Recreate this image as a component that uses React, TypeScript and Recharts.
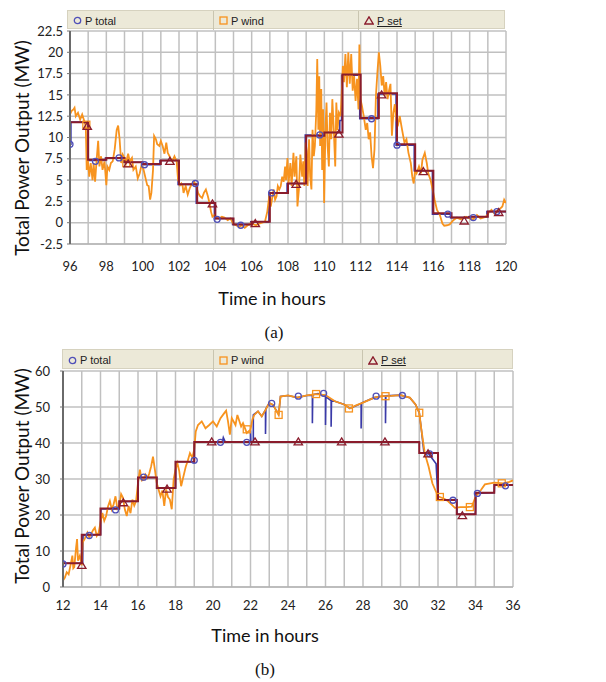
import React from 'react';
import { ComposedChart, Line, Scatter, XAxis, YAxis, CartesianGrid } from 'recharts';

// ---------- Panel (a) ----------
const xTicksA = [96, 97, 98, 99, 100, 101, 102, 103, 104, 105, 106, 107, 108, 109, 110, 111, 112, 113, 114, 115, 116, 117, 118, 119, 120];
const yTicksA = [-2.5, 0, 2.5, 5, 7.5, 10, 12.5, 15, 17.5, 20, 22.5];

const windA: [number, number][] = [
  [96.0, 12.7], [96.08, 13.1], [96.19, 13.3], [96.25, 13.5], [96.32, 12.5], [96.44, 12.9], [96.56, 12.1], [96.67, 12.7], [96.79, 11.9], [96.87, 11.3],
  [96.92, 6.2], [96.98, 7.4], [97.06, 5.4], [97.14, 7.0], [97.24, 5.0], [97.3, 7.0], [97.38, 4.8], [97.46, 7.2], [97.55, 9.6], [97.62, 6.6],
  [97.71, 7.8], [97.79, 6.2], [97.9, 7.2], [98.0, 4.4], [98.06, 6.6], [98.16, 6.2], [98.25, 7.0], [98.35, 7.2], [98.46, 8.6], [98.57, 10.9],
  [98.65, 11.4], [98.73, 9.8], [98.82, 7.0], [98.9, 8.0], [99.0, 7.6], [99.08, 7.0], [99.2, 8.1], [99.29, 7.2], [99.41, 7.6], [99.49, 6.2],
  [99.62, 6.6], [99.73, 5.2], [99.84, 5.8], [99.94, 6.8], [100.05, 6.2], [100.16, 5.2], [100.25, 4.4], [100.33, 4.3], [100.41, 2.7], [100.48, 3.5],
  [100.57, 6.2], [100.63, 10.2], [100.73, 9.8], [100.8, 9.2], [100.92, 9.0], [101.0, 9.6], [101.1, 9.0], [101.2, 8.1], [101.3, 9.4], [101.38, 8.2],
  [101.48, 7.8], [101.56, 7.4], [101.63, 7.2], [101.75, 7.8], [101.87, 7.2], [101.95, 5.0], [102.06, 4.4], [102.13, 4.6], [102.2, 4.3], [102.25, 3.5],
  [102.37, 4.3], [102.48, 3.3], [102.6, 4.1], [102.71, 4.6], [102.84, 4.8], [102.95, 4.3], [103.05, 3.5], [103.16, 3.1], [103.27, 2.9], [103.37, 3.5],
  [103.48, 3.9], [103.59, 3.1], [103.68, 2.3], [103.76, 1.3], [103.84, 0.7], [103.95, 0.9], [104.03, 0.7], [104.2, 0.5], [104.36, 0.7], [104.5, 0.6],
  [104.68, 0.3], [104.83, 0.5], [104.98, -0.1], [105.14, -0.3], [105.3, -0.5], [105.46, -0.3], [105.62, -0.6], [105.78, -0.3], [105.94, -0.1], [106.1, -0.2],
  [106.25, -0.3], [106.41, -0.1], [106.57, 0.0], [106.73, 0.1], [106.86, 1.3], [106.92, 2.3], [106.98, 3.3], [107.05, 1.9], [107.13, 2.9], [107.21, 3.9],
  [107.29, 2.7], [107.37, 3.1], [107.44, 4.3], [107.52, 3.9], [107.6, 4.3], [107.68, 5.4], [107.76, 4.8], [107.84, 6.6], [107.89, 5.0], [107.97, 7.6],
  [108.03, 4.6], [108.13, 7.0], [108.2, 4.3], [108.3, 8.2], [108.36, 5.4], [108.46, 7.8], [108.52, 1.9], [108.6, 3.9], [108.68, 8.0], [108.78, 5.4],
  [108.84, 7.2], [108.9, 4.3], [108.97, 9.4], [109.03, 8.4], [109.08, 4.3], [109.16, 9.8], [109.22, 5.4], [109.29, 3.9], [109.35, 10.9], [109.42, 7.8],
  [109.48, 9.0], [109.56, 13.3], [109.61, 19.2], [109.67, 10.9], [109.72, 17.2], [109.77, 9.0], [109.83, 15.7], [109.88, 6.2], [109.93, 13.3], [109.99, 2.3],
  [110.06, 10.9], [110.12, 14.1], [110.18, 9.0], [110.25, 6.6], [110.31, 12.9], [110.38, 9.8], [110.44, 14.5], [110.52, 10.9], [110.6, 6.6], [110.66, 14.1],
  [110.73, 10.9], [110.8, 12.9], [110.89, 12.5], [110.95, 14.9], [111.02, 18.4], [111.08, 16.5], [111.16, 19.8], [111.24, 15.9], [111.32, 20.0], [111.4, 16.3],
  [111.48, 19.8], [111.56, 15.5], [111.64, 17.2], [111.72, 14.3], [111.8, 16.9], [111.88, 13.3], [111.93, 20.9], [111.99, 14.5], [112.07, 13.7], [112.17, 12.5],
  [112.28, 10.9], [112.36, 11.7], [112.44, 9.8], [112.52, 10.6], [112.6, 7.8], [112.68, 6.4], [112.76, 8.6], [112.84, 14.9], [112.92, 17.6], [113.0, 20.0],
  [113.08, 18.4], [113.16, 16.1], [113.24, 17.2], [113.32, 14.9], [113.4, 16.5], [113.48, 14.5], [113.56, 15.5], [113.64, 16.3], [113.72, 10.2], [113.8, 12.9],
  [113.88, 13.9], [113.96, 12.1], [114.04, 11.3], [114.15, 12.5], [114.28, 10.9], [114.41, 9.4], [114.52, 9.8], [114.63, 8.2], [114.76, 7.0], [114.84, 5.4],
  [114.92, 4.6], [115.0, 6.2], [115.08, 5.8], [115.21, 6.6], [115.32, 5.8], [115.4, 7.4], [115.53, 8.2], [115.64, 7.0], [115.72, 5.8], [115.85, 5.0],
  [115.96, 3.9], [116.07, 2.7], [116.2, 1.5], [116.36, 0.9], [116.5, -0.1], [116.6, -0.35], [116.75, -0.3], [116.9, -0.2], [117.1, 0.3], [117.3, 0.6],
  [117.5, 0.4], [117.8, 0.7], [118.0, 0.5], [118.2, 0.4], [118.4, 0.9], [118.6, 0.5], [118.9, 0.7], [119.05, 1.2], [119.2, 1.5], [119.35, 1.1],
  [119.5, 1.3], [119.65, 1.6], [119.8, 1.9], [119.9, 2.7], [120.0, 2.3],
];

const setA: [number, number][] = [
  [96, 11.8], [97, 7.4], [98, 7.6], [99, 7.1], [100, 6.9], [101, 7.3], [102, 4.5], [103, 2.3], [104, 0.5], [105, -0.2], [106, 0.1], [107, 3.5],
  [108, 4.6], [109, 10.2], [110, 10.6], [111, 17.4], [112, 12.3], [113, 15.2], [114, 9.2], [115, 6.1], [116, 1.1], [117, 0.6], [118, 0.7], [119, 1.3], [120, 1.3],
];

const totalA: [number, number][] = [
  [96, 9.2], [96.05, 11.8], [97.0, 7.3], [97.95, 7.6], [98.95, 7.1], [99.95, 6.8], [100.95, 7.3], [101.95, 4.5], [102.95, 2.3], [103.95, 0.5],
  [104.95, -0.2], [105.95, 0.1], [106.95, 3.5], [107.95, 4.6], [108.95, 10.3], [109.95, 10.6], [110.85, 12.0], [110.95, 17.3], [111.95, 12.2],
  [112.95, 15.1], [113.95, 9.1], [114.95, 6.1], [115.95, 1.0], [116.95, 0.6], [117.95, 0.7], [118.95, 1.3], [120, 1.3],
];

const totalMarksA: [number, number][] = [
  [96.0, 9.2], [97.4, 7.2], [98.7, 7.6], [100.1, 6.8], [102.9, 4.6], [104.1, 0.4], [105.4, -0.3], [107.1, 3.5], [109.75, 10.3],
  [112.6, 12.2], [114.0, 9.1], [116.8, 1.0], [118.2, 0.6], [119.5, 1.3],
];
const setMarksA: [number, number][] = [
  [96.95, 11.3], [99.2, 6.9], [101.5, 7.2], [103.84, 2.2], [106.2, -0.1], [108.45, 4.5], [110.8, 10.4], [113.15, 15.0], [115.45, 6.0], [117.7, 0.2], [119.6, 1.2],
];
const windMarksA: [number, number][] = [[96.9, 11.5], [99.1, 7.0]];

// ---------- Panel (b) ----------
const xTicksB = [12, 13, 14, 15, 16, 17, 18, 19, 20, 21, 22, 23, 24, 25, 26, 27, 28, 29, 30, 31, 32, 33, 34, 35, 36];
const yTicksB = [0, 10, 20, 30, 40, 50, 60];

const windB: [number, number][] = [
  [12.0, 1.8], [12.1, 2.6], [12.2, 4.1], [12.3, 3.5], [12.4, 6.0], [12.5, 8.7], [12.55, 5.2], [12.6, 5.5], [12.7, 11.0], [12.75, 13.3],
  [12.8, 7.3], [12.9, 8.7], [13.0, 6.0], [13.05, 12.4], [13.15, 13.3], [13.3, 15.1], [13.4, 13.8], [13.5, 14.7], [13.6, 15.8], [13.7, 16.5],
  [13.8, 14.2], [13.9, 15.1], [14.0, 17.9], [14.1, 20.6], [14.2, 18.4], [14.3, 19.7], [14.4, 22.4], [14.5, 23.9], [14.6, 21.6], [14.7, 23.0],
  [14.8, 25.2], [14.9, 21.8], [15.0, 22.5], [15.1, 25.8], [15.2, 24.8], [15.3, 21.5], [15.4, 19.7], [15.5, 22.5], [15.6, 20.5], [15.7, 24.3],
  [15.8, 22.6], [15.9, 23.9], [16.0, 28.9], [16.1, 32.6], [16.2, 29.6], [16.3, 29.8], [16.4, 31.2], [16.5, 30.3], [16.6, 31.5], [16.7, 33.5],
  [16.8, 36.2], [16.9, 32.6], [17.0, 28.9], [17.1, 27.0], [17.2, 25.2], [17.3, 26.8], [17.4, 22.5], [17.5, 27.1], [17.6, 25.0], [17.7, 24.3],
  [17.8, 21.6], [17.9, 29.8], [18.0, 32.6], [18.1, 34.4], [18.2, 32.2], [18.3, 28.0], [18.4, 30.2], [18.55, 33.5], [18.65, 35.0], [18.77, 37.2],
  [18.9, 35.9], [19.0, 38.2], [19.08, 43.2], [19.2, 45.0], [19.4, 46.0], [19.6, 44.1], [19.8, 45.0], [20.0, 46.0], [20.2, 44.6], [20.4, 46.9],
  [20.6, 48.3], [20.7, 49.0], [20.8, 46.0], [20.9, 42.3], [21.0, 46.9], [21.2, 45.0], [21.3, 47.8], [21.5, 44.6], [21.6, 45.5], [21.8, 42.8],
  [22.0, 43.7], [22.1, 46.5], [22.2, 47.8], [22.4, 48.8], [22.6, 47.4], [22.8, 49.2], [23.0, 51.1], [23.2, 50.6], [23.3, 49.7], [23.5, 47.8],
  [23.6, 52.9], [24.0, 53.2], [24.5, 52.6], [25.0, 53.2], [25.5, 53.6], [26.0, 53.3], [26.5, 51.6], [27.0, 50.7], [27.3, 49.6], [27.6, 50.4],
  [28.0, 51.2], [28.6, 52.6], [29.0, 53.0], [29.5, 53.1], [30.0, 53.3], [30.5, 52.6], [30.8, 50.7], [31.0, 48.4], [31.1, 44.3], [31.3, 37.0],
  [31.5, 33.4], [31.7, 28.8], [32.0, 25.2], [32.3, 24.6], [32.5, 24.0], [32.7, 23.0], [32.9, 22.0], [33.2, 22.2], [33.5, 22.2], [33.8, 22.3],
  [34.0, 25.0], [34.3, 27.0], [34.5, 28.5], [35.0, 29.0], [35.5, 28.8], [35.8, 29.2], [36.0, 29.6],
];

const setB: [number, number][] = [
  [12, 6.6], [13, 14.5], [14, 21.8], [15, 23.8], [16, 30.4], [17, 27.5], [18, 34.8], [19, 40.3], [20, 40.3], [21, 40.3], [22, 40.3],
  [23, 40.3], [24, 40.3], [25, 40.3], [26, 40.3], [27, 40.3], [28, 40.3], [29, 40.3], [30, 40.3], [31, 37.2], [32, 24.2], [33, 20.2],
  [34, 26.2], [35, 28.3], [36, 28.3],
];

const totalB: [number, number][] = [
  [12, 6.4], [12.02, 6.6], [13.05, 6.6], [13.07, 14.3], [14.0, 14.6], [14.02, 21.7], [15.0, 21.7], [15.02, 23.7], [16.0, 23.8], [16.02, 30.4],
  [17.0, 30.4], [17.02, 27.5], [18.0, 27.6], [18.02, 34.8], [19.0, 34.8], [19.02, 40.3], [20.5, 40.3], [20.55, 41.5], [20.65, 40.3], [22.0, 40.3],
  [22.0, 43.5], [22.02, 40.3], [22.15, 40.3], [22.15, 47.8], [22.4, 48.8], [22.6, 47.4], [22.8, 49.2], [22.8, 42.5], [22.82, 49.5], [23.0, 51.1],
  [23.2, 50.6], [23.3, 49.7], [23.5, 48.0], [23.6, 52.9], [24.0, 53.2], [24.5, 52.6], [25.0, 53.2], [25.3, 53.3], [25.3, 45.5], [25.32, 53.4],
  [25.6, 53.7], [26.0, 53.0], [26.0, 45.0], [26.02, 52.8], [26.3, 51.8], [26.3, 44.5], [26.32, 51.7], [26.5, 51.6], [27.0, 50.7], [27.3, 49.6],
  [27.9, 51.0], [27.9, 44.0], [27.92, 51.1], [28.6, 52.6], [29.0, 53.0], [29.2, 53.1], [29.2, 45.5], [29.22, 53.1], [30.0, 53.3], [30.5, 52.6],
  [30.8, 50.7], [31.0, 48.4], [31.1, 44.3], [31.25, 37.3], [31.5, 37.0], [31.7, 35.6], [31.9, 34.2], [32.0, 24.2], [33.0, 24.2], [33.02, 20.2],
  [34.0, 20.2], [34.02, 26.0], [35.0, 26.2], [35.02, 28.3], [36.0, 28.3],
];

const totalMarksB: [number, number][] = [
  [12.0, 6.4], [13.4, 14.3], [14.8, 21.4], [16.3, 30.5], [19.0, 35.2], [20.4, 40.2], [21.8, 40.2], [23.13, 51.0], [24.55, 53.0],
  [25.9, 53.8], [28.7, 53.0], [30.1, 53.2], [31.55, 37.0], [32.8, 24.1], [34.1, 26.0], [35.6, 28.1],
];
const setMarksB: [number, number][] = [
  [13.0, 6.0], [15.22, 23.4], [17.55, 27.2], [19.93, 40.3], [22.24, 40.3], [24.55, 40.3], [26.86, 40.3], [29.17, 40.3], [31.47, 37.0], [33.3, 19.8],
];
const windMarksB: [number, number][] = [
  [21.8, 43.8], [23.5, 47.8], [25.5, 53.6], [27.25, 49.6], [29.2, 53.0], [31.0, 48.4], [32.1, 25.0], [33.7, 22.2], [35.4, 28.8],
];

// ---------- helpers ----------
const ORANGE = '#f7931e';
const MAROON = '#8a1c2c';
const BLUE = '#3a3aa8';
const GRID = '#c0c0c0';

const toObjs = (arr: [number, number][], key: string) => arr.map(([x, v]) => ({ x, [key]: v }));

const CircleShape = (p: any) => (
  <circle cx={p.cx} cy={p.cy} r={3} fill="none" stroke="#5050b8" strokeWidth={1.3} />
);
const TriShape = (p: any) => (
  <path d={`M${p.cx},${p.cy - 4} L${p.cx + 4.2},${p.cy + 3} L${p.cx - 4.2},${p.cy + 3} Z`} fill="none" stroke={MAROON} strokeWidth={1.3} />
);
const SquareShape = (p: any) => (
  <rect x={p.cx - 3.5} y={p.cy - 3.5} width={7} height={7} fill="none" stroke={ORANGE} strokeWidth={1.3} />
);

const tickStyle = { fontSize: 13, fill: '#222', fontFamily: 'Lato' };

function LegendBar({ left, top, width, height, s1, s2 }: any) {
  const sec = (x0: number, x1: number, children: any, last = false) => (
    <div
      style={{
        position: 'absolute', left: x0 - left, top: 0, width: x1 - x0, height,
        borderRight: last ? 'none' : '1px solid #c9c5b0', boxSizing: 'border-box',
        display: 'flex', alignItems: 'center', paddingLeft: 5,
        fontFamily: '"Liberation Sans", Arial, sans-serif', fontSize: 11, color: '#222',
      }}
    >
      {children}
    </div>
  );
  return (
    <div style={{ position: 'absolute', left, top, width, height, background: '#ece9d8', border: '1px solid #d6d2bf', boxSizing: 'border-box' }}>
      {sec(left, s1, (<>
        <svg width={9} height={9} style={{ marginRight: 3 }}><circle cx={4.5} cy={4.5} r={3.2} fill="none" stroke="#5050b8" strokeWidth={1.3} /></svg>
        <span>P total</span>
      </>))}
      {sec(s1, s2, (<>
        <svg width={9} height={9} style={{ marginRight: 3 }}><rect x={1} y={1} width={7} height={7} fill="none" stroke={ORANGE} strokeWidth={1.3} /></svg>
        <span>P wind</span>
      </>))}
      {sec(s2, left + width, (<>
        <svg width={10} height={9} style={{ marginRight: 3 }}><path d="M5,0.8 L9.2,8 L0.8,8 Z" fill="none" stroke={MAROON} strokeWidth={1.3} /></svg>
        <span style={{ textDecoration: 'underline' }}>P set</span>
      </>), true)}
    </div>
  );
}

function YTitle({ cx, cy }: { cx: number; cy: number }) {
  const w = 280, h = 24;
  return (
    <div
      style={{
        position: 'absolute', left: cx - w / 2, top: cy - h / 2, width: w, height: h, lineHeight: `${h}px`,
        textAlign: 'center', transform: 'rotate(-90deg)', fontFamily: 'Lato', fontSize: 19, color: '#111',
      }}
    >
      Total Power Output (MW)
    </div>
  );
}

function Centered({ cx, cy, text, font, size }: any) {
  const w = 200, h = 24;
  return (
    <div style={{ position: 'absolute', left: cx - w / 2, top: cy - h / 2, width: w, height: h, lineHeight: `${h}px`, textAlign: 'center', fontFamily: font, fontSize: size, color: '#111' }}>
      {text}
    </div>
  );
}

function Panel({ top, height, marginRight, yWidth, xDomain, xTicks, yDomain, yTicks, wind, set, total, totalType, tMarks, sMarks, wMarks, xTickMargin, yTickMargin }: any) {
  return (
    <div style={{ position: 'absolute', left: 0, top }}>
      <ComposedChart width={606} height={height} margin={{ top: 31, right: marginRight, bottom: 0, left: 0 }}>
        <CartesianGrid stroke={GRID} strokeWidth={1.5} />
        <XAxis
          type="number" dataKey="x" domain={xDomain} ticks={xTicks} allowDataOverflow
          tickFormatter={(v: number) => (v % 2 === 0 ? String(v) : '')}
          tick={tickStyle} tickLine={false} axisLine={{ stroke: '#aaa' }} height={36} tickMargin={xTickMargin} interval={0}
        />
        <YAxis
          type="number" domain={yDomain} ticks={yTicks} allowDataOverflow width={yWidth}
          tick={tickStyle} tickSize={3} tickLine={{ stroke: '#777' }} tickMargin={yTickMargin}
          axisLine={{ stroke: '#6a6a6a', strokeWidth: 2 }} interval={0}
        />
        <Line data={toObjs(total, 'total')} dataKey="total" type={totalType} stroke={BLUE} strokeWidth={1.6} dot={false} activeDot={false} isAnimationActive={false} />
        <Line data={toObjs(wind, 'wind')} dataKey="wind" type="linear" stroke={ORANGE} strokeWidth={1.8} dot={false} activeDot={false} isAnimationActive={false} />
        <Line data={toObjs(set, 'set')} dataKey="set" type="stepAfter" stroke={MAROON} strokeWidth={2} dot={false} activeDot={false} isAnimationActive={false} />
        <Scatter data={toObjs(wMarks, 'm')} dataKey="m" shape={SquareShape} isAnimationActive={false} />
        <Scatter data={toObjs(tMarks, 'm')} dataKey="m" shape={CircleShape} isAnimationActive={false} />
        <Scatter data={toObjs(sMarks, 'm')} dataKey="m" shape={TriShape} isAnimationActive={false} />
      </ComposedChart>
    </div>
  );
}

export default function App() {
  return (
    <div style={{ position: 'absolute', left: 0, top: 0, width: 606, height: 682, background: '#fff', overflow: 'hidden' }}>
      <Panel
        top={0} height={280} marginRight={100} yWidth={70} xDomain={[96, 120]} xTicks={xTicksA} yDomain={[-2.5, 22.5]} yTicks={yTicksA}
        wind={windA} set={setA} total={totalA} totalType="stepAfter" tMarks={totalMarksA} sMarks={setMarksA} wMarks={windMarksA}
        xTickMargin={12} yTickMargin={4}
      />
      <Panel
        top={340} height={283} marginRight={93} yWidth={63} xDomain={[12, 36]} xTicks={xTicksB} yDomain={[0, 60]} yTicks={yTicksB}
        wind={windB} set={setB} total={totalB} totalType="linear" tMarks={totalMarksB} sMarks={setMarksB} wMarks={windMarksB}
        xTickMargin={8} yTickMargin={10}
      />
      <LegendBar left={67} top={10} width={438} height={19} s1={213} s2={358} />
      <LegendBar left={62} top={349} width={451} height={20} s1={213} s2={362} />
      <YTitle cx={22} cy={148} />
      <YTitle cx={22} cy={476} />
      <Centered cx={272} cy={298} text="Time in hours" font="Lato" size={18} />
      <Centered cx={274} cy={333} text="(a)" font='"Liberation Serif", serif' size={17} />
      <Centered cx={265} cy={635} text="Time in hours" font="Lato" size={18} />
      <Centered cx={265} cy={670} text="(b)" font='"Liberation Serif", serif' size={17} />
    </div>
  );
}
